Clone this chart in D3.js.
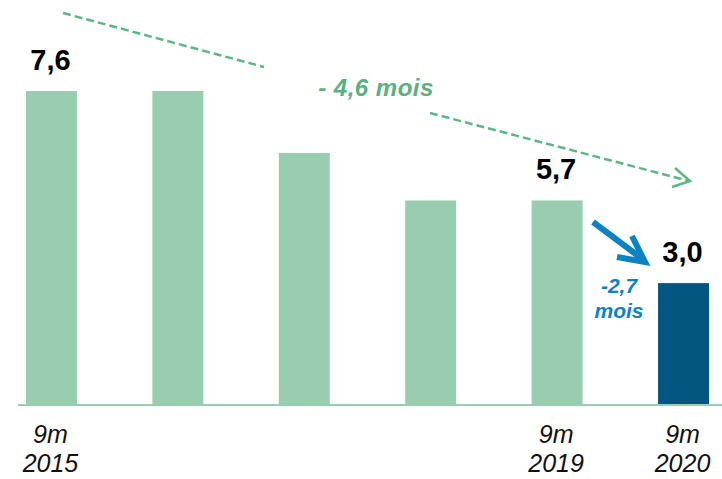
<!DOCTYPE html>
<head>
  <meta charset="utf-8">
  <title>mois</title>
  <script src="https://cdn.jsdelivr.net/npm/d3@7"></script>
  <style>
    body { margin: 0; background: #fff; }
    text { font-family: "Liberation Sans", Arial, sans-serif; }
  </style>
</head>
<body>
<script>
    var periods = ["9m\n2015", "", "", "", "9m\n2019", "9m\n2020"];
    var barValues = [7.6, 7.6, 6.1, 4.95, 4.95, 2.95];
    var valueLabels = ["7,6", "", "", "", "5,7", "3,0"];
    var barColors = ["#98cdb0", "#98cdb0", "#98cdb0", "#98cdb0", "#98cdb0", "#03567f"];

    var W = 722, H = 479;
    var baseY = 405;

    var svg = d3.select("body").append("svg")
        .attr("width", W)
        .attr("height", H);

    var x = d3.scaleBand()
        .domain(d3.range(periods.length))
        .range([26, 709])
        .paddingInner(0.597)
        .paddingOuter(0);

    var y = d3.scaleLinear()
        .domain([0, 7.6])
        .range([baseY, 91]);

    // bars
    svg.selectAll("rect.bar")
        .data(barValues)
        .enter()
        .append("rect")
        .attr("class", "bar")
        .attr("x", (d, i) => x(i))
        .attr("y", d => y(d))
        .attr("width", x.bandwidth())
        .attr("height", d => baseY + 1 - y(d))
        .attr("fill", (d, i) => barColors[i]);

    // baseline
    svg.append("line")
        .attr("x1", 18).attr("x2", W)
        .attr("y1", baseY).attr("y2", baseY)
        .style("stroke", "#98cdb0")
        .style("stroke-width", 2);

    // value labels
    svg.selectAll("text.val")
        .data(barValues)
        .enter()
        .append("text")
        .attr("class", "val")
        .attr("x", (d, i) => x(i) + x.bandwidth() / 2 - 1)
        .attr("y", d => y(d) - 21)
        .attr("text-anchor", "middle")
        .style("font-size", "29px")
        .style("font-weight", "bold")
        .style("fill", "#000")
        .text((d, i) => valueLabels[i]);

    // category labels, two lines each
    var cat = svg.selectAll("text.cat")
        .data(periods)
        .enter()
        .append("text")
        .attr("class", "cat")
        .attr("x", (d, i) => x(i) + x.bandwidth() / 2 - 1)
        .attr("y", 443)
        .attr("text-anchor", "middle")
        .style("font-size", "25px")
        .style("font-style", "italic")
        .style("fill", "#111");
    cat.each(function(d) {
        var parts = d.split("\n");
        var t = d3.select(this);
        parts.forEach(function(p, k) {
            if (!p) return;
            t.append("tspan")
                .attr("x", t.attr("x"))
                .attr("dy", k == 0 ? 0 : 29)
                .text(p);
        });
    });

    // dashed green trend arrow
    var green = "#5cb785";
    var dash = svg.append("g")
        .style("fill", "none")
        .style("stroke", green)
        .style("stroke-width", 2.5)
        .style("stroke-dasharray", "8,4");
    dash.append("line")
        .attr("x1", 63).attr("y1", 13)
        .attr("x2", 264).attr("y2", 67);
    dash.append("line")
        .attr("x1", 430).attr("y1", 113)
        .attr("x2", 689).attr("y2", 181);
    svg.append("path")
        .attr("d", "M675,168 L690,181 L672,187")
        .style("fill", "none")
        .style("stroke", green)
        .style("stroke-width", 2.5);

    svg.append("text")
        .attr("x", 376).attr("y", 96)
        .attr("text-anchor", "middle")
        .style("font-size", "24px")
        .style("font-weight", "bold")
        .style("font-style", "italic")
        .style("letter-spacing", "0.5px")
        .style("fill", "#5ab07f")
        .text("- 4,6 mois");

    // blue arrow, last year
    var blue = "#0a82c4";
    svg.append("line")
        .attr("x1", 593).attr("y1", 222)
        .attr("x2", 641).attr("y2", 258)
        .style("stroke", blue)
        .style("stroke-width", 6);
    svg.append("path")
        .attr("d", "M632,236 L645,262 L617,257")
        .style("fill", "none")
        .style("stroke", blue)
        .style("stroke-width", 6)
        .style("stroke-linejoin", "miter");

    svg.append("text")
        .attr("x", 619).attr("y", 293)
        .attr("text-anchor", "middle")
        .style("font-size", "21px")
        .style("font-weight", "bold")
        .style("font-style", "italic")
        .style("fill", blue)
        .text("-2,7");
    svg.append("text")
        .attr("x", 619).attr("y", 318)
        .attr("text-anchor", "middle")
        .style("font-size", "21px")
        .style("font-weight", "bold")
        .style("font-style", "italic")
        .style("fill", blue)
        .text("mois");
</script>
</body>
